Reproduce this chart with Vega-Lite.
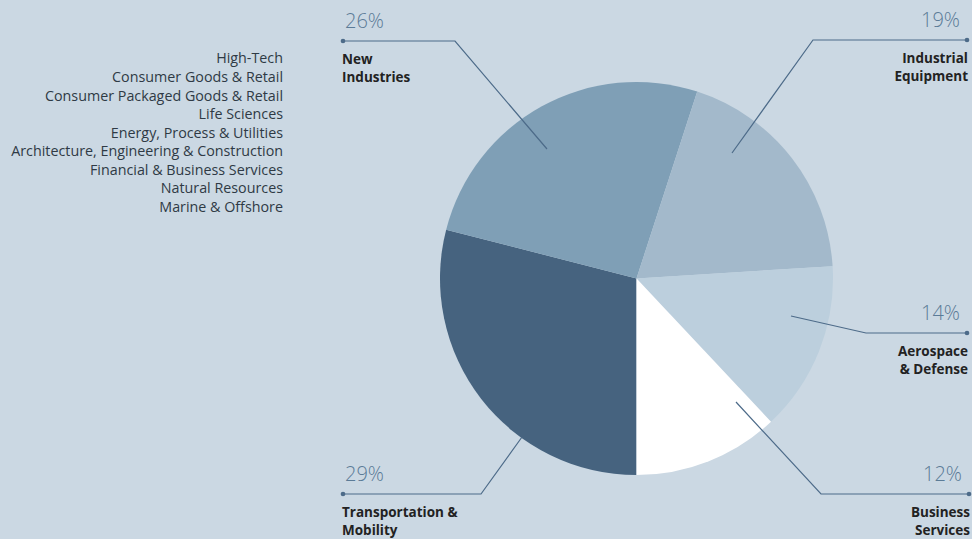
{
  "$schema": "https://vega.github.io/schema/vega-lite/v6.json",
  "width": 393,
  "height": 393,
  "autosize": {"type": "none"},
  "padding": {"left": 440, "top": 82, "right": 139, "bottom": 64},
  "background": "#cbd8e3",
  "config": {"view": {"stroke": null}},
  "datasets": {
    "pie": [
      {"segment": "Transportation & Mobility", "share": 29, "ord": 1},
      {"segment": "New Industries", "share": 26, "ord": 2},
      {"segment": "Industrial Equipment", "share": 19, "ord": 3},
      {"segment": "Aerospace & Defense", "share": 14, "ord": 4},
      {"segment": "Business Services", "share": 12, "ord": 5}
    ],
    "leaders": [
      {"segment": "New Industries", "i": 1, "px": 343, "py": 41},
      {"segment": "New Industries", "i": 2, "px": 455, "py": 41},
      {"segment": "New Industries", "i": 3, "px": 547, "py": 149},
      {"segment": "Industrial Equipment", "i": 1, "px": 732, "py": 153},
      {"segment": "Industrial Equipment", "i": 2, "px": 813, "py": 40},
      {"segment": "Industrial Equipment", "i": 3, "px": 967, "py": 40},
      {"segment": "Aerospace & Defense", "i": 1, "px": 791, "py": 316},
      {"segment": "Aerospace & Defense", "i": 2, "px": 866, "py": 333},
      {"segment": "Aerospace & Defense", "i": 3, "px": 967, "py": 333},
      {"segment": "Business Services", "i": 1, "px": 736, "py": 402},
      {"segment": "Business Services", "i": 2, "px": 821, "py": 494},
      {"segment": "Business Services", "i": 3, "px": 969, "py": 494},
      {"segment": "Transportation & Mobility", "i": 1, "px": 522, "py": 437},
      {"segment": "Transportation & Mobility", "i": 2, "px": 481, "py": 494},
      {"segment": "Transportation & Mobility", "i": 3, "px": 343, "py": 494}
    ],
    "callouts": [
      {"segment": "New Industries", "pct": "26%", "label": "New\nIndustries", "side": "L", "px": 343, "py": 41},
      {"segment": "Industrial Equipment", "pct": "19%", "label": "Industrial\nEquipment", "side": "R", "px": 967, "py": 40},
      {"segment": "Aerospace & Defense", "pct": "14%", "label": "Aerospace\n& Defense", "side": "R", "px": 967, "py": 333},
      {"segment": "Business Services", "pct": "12%", "label": "Business\nServices", "side": "R", "px": 969, "py": 494},
      {"segment": "Transportation & Mobility", "pct": "29%", "label": "Transportation &\nMobility", "side": "L", "px": 343, "py": 494}
    ],
    "industries": [
      {"name": "High-Tech", "px": 283, "py": 63},
      {"name": "Consumer Goods & Retail", "px": 283, "py": 82},
      {"name": "Consumer Packaged Goods & Retail", "px": 283, "py": 100.5},
      {"name": "Life Sciences", "px": 283, "py": 119},
      {"name": "Energy, Process & Utilities", "px": 283, "py": 137.5},
      {"name": "Architecture, Engineering & Construction", "px": 283, "py": 156},
      {"name": "Financial & Business Services", "px": 283, "py": 174.5},
      {"name": "Natural Resources", "px": 283, "py": 193},
      {"name": "Marine & Offshore", "px": 283, "py": 211.5}
    ]
  },
  "layer": [
    {
      "data": {"name": "pie"},
      "mark": {"type": "arc", "stroke": null},
      "encoding": {
        "theta": {"field": "share", "type": "quantitative", "stack": true, "scale": {"range": [3.14159265, 9.42477796]}},
        "order": {"field": "ord", "type": "quantitative"},
        "color": {
          "field": "segment", "type": "nominal", "legend": null,
          "scale": {
            "domain": ["Transportation & Mobility", "New Industries", "Industrial Equipment", "Aerospace & Defense", "Business Services"],
            "range": ["#46637f", "#7f9fb6", "#a3b9cb", "#bccfdd", "#ffffff"]
          }
        }
      }
    },
    {
      "data": {"name": "leaders"},
      "mark": {"type": "line", "color": "#4d6b89", "strokeWidth": 1.2, "clip": false},
      "encoding": {
        "x": {"field": "px", "type": "quantitative", "axis": null, "scale": {"domain": [440, 833], "zero": false, "nice": false}},
        "y": {"field": "py", "type": "quantitative", "axis": null, "scale": {"domain": [82, 475], "zero": false, "nice": false, "reverse": true}},
        "detail": {"field": "segment"},
        "order": {"field": "i", "type": "quantitative"}
      }
    },
    {
      "data": {"name": "callouts"},
      "mark": {"type": "point", "filled": true, "size": 22, "color": "#4d6b89", "opacity": 1, "clip": false},
      "encoding": {
        "x": {"field": "px", "type": "quantitative"},
        "y": {"field": "py", "type": "quantitative"}
      }
    },
    {
      "data": {"name": "callouts"},
      "transform": [{"filter": "datum.side === 'L'"}],
      "layer": [
        {
          "mark": {"type": "text", "align": "left", "baseline": "alphabetic", "dx": 2, "dy": -13, "font": "Open Sans", "fontWeight": 300, "fontSize": 20, "color": "#5b7b97"},
          "encoding": {"x": {"field": "px", "type": "quantitative"}, "y": {"field": "py", "type": "quantitative"}, "text": {"field": "pct"}}
        },
        {
          "mark": {"type": "text", "align": "left", "baseline": "alphabetic", "dx": -1, "dy": 22.5, "font": "Open Sans", "fontWeight": "bold", "fontSize": 13.5, "lineHeight": 18, "lineBreak": "\n", "color": "#222222"},
          "encoding": {"x": {"field": "px", "type": "quantitative"}, "y": {"field": "py", "type": "quantitative"}, "text": {"field": "label"}}
        }
      ]
    },
    {
      "data": {"name": "callouts"},
      "transform": [{"filter": "datum.side === 'R'"}],
      "layer": [
        {
          "mark": {"type": "text", "align": "right", "baseline": "alphabetic", "dx": -7, "dy": -13, "font": "Open Sans", "fontWeight": 300, "fontSize": 20, "color": "#5b7b97"},
          "encoding": {"x": {"field": "px", "type": "quantitative"}, "y": {"field": "py", "type": "quantitative"}, "text": {"field": "pct"}}
        },
        {
          "mark": {"type": "text", "align": "right", "baseline": "alphabetic", "dx": 1, "dy": 22.5, "font": "Open Sans", "fontWeight": "bold", "fontSize": 13.5, "lineHeight": 18, "lineBreak": "\n", "color": "#222222"},
          "encoding": {"x": {"field": "px", "type": "quantitative"}, "y": {"field": "py", "type": "quantitative"}, "text": {"field": "label"}}
        }
      ]
    },
    {
      "data": {"name": "industries"},
      "mark": {"type": "text", "align": "right", "baseline": "alphabetic", "font": "Open Sans", "fontSize": 14.3, "color": "#2f3a45"},
      "encoding": {"x": {"field": "px", "type": "quantitative"}, "y": {"field": "py", "type": "quantitative"}, "text": {"field": "name"}}
    }
  ]
}
